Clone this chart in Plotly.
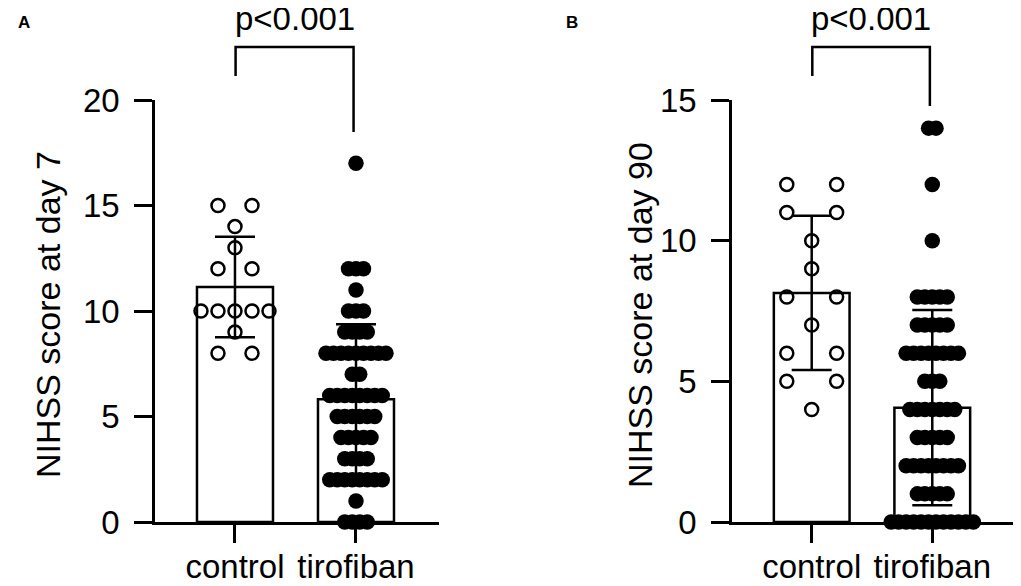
import plotly.graph_objects as go
import numpy as np

# data (NIHSS score levels and how many patients sit at each)
groups = ["control", "tirofiban"]

a_ctrl_scores = [15, 14, 13, 12, 10, 9, 8]
a_ctrl_counts = [2, 1, 1, 2, 5, 1, 2]
a_tiro_scores = [17, 12, 11, 10, 9, 8, 7, 6, 5, 4, 3, 2, 1, 0]
a_tiro_counts = [1, 3, 1, 3, 4, 9, 2, 8, 6, 5, 4, 8, 1, 4]

b_ctrl_scores = [12, 11, 10, 9, 8, 7, 6, 5, 4]
b_ctrl_counts = [2, 2, 1, 1, 2, 1, 2, 2, 1]
b_tiro_scores = [14, 12, 10, 8, 7, 6, 5, 4, 3, 2, 1, 0]
b_tiro_counts = [2, 1, 1, 5, 5, 8, 3, 7, 5, 8, 5, 12]

p_text = "p<0.001"

PAGE = 8                  # the browser's default body margin
W, H = 1021 - PAGE, 586 - PAGE
FONT = "Liberation Sans, Arial, sans-serif"
LW = 2.5
XR = [-0.661, 1.686]      # x range, category units
PX_PER_UNIT = 121.0


def px_x(px):
    return (px - PAGE) / W


def px_y(py):
    return 1 - (py - PAGE) / H


def expand(scores, counts):
    vals = []
    for s, c in zip(scores, counts):
        vals += [s] * c
    return np.array(vals, dtype=float)


def open_offsets(n, step):
    # spread open circles side by side, leave the middle empty for even counts
    if n % 2:
        return [(i - (n - 1) / 2) * step for i in range(n)]
    half = n // 2
    return [k * step for k in list(range(-half, 0)) + list(range(1, half + 1))]


def filled_offsets(n, step):
    return [(i - (n - 1) / 2) * step for i in range(n)]


def swarm(scores, counts, center, step, kind):
    xs, ys = [], []
    for s, c in zip(scores, counts):
        offs = open_offsets(c, step) if kind == "open" else filled_offsets(c, step)
        for o in offs:
            xs.append(center + o / PX_PER_UNIT)
            ys.append(s)
    return xs, ys


panels = [
    dict(xa="x", ya="y", ctrl=(a_ctrl_scores, a_ctrl_counts), tiro=(a_tiro_scores, a_tiro_counts),
         ctrl_step=17, ymax=20, xdom=(155, 439), title="NIHSS score at day 7",
         title_x=48, letter="A", letter_x=24, right_leg=132),
    dict(xa="x2", ya="y2", ctrl=(b_ctrl_scores, b_ctrl_counts), tiro=(b_tiro_scores, b_tiro_counts),
         ctrl_step=25, ymax=15, xdom=(732, 1015), title="NIHSS score at day 90",
         title_x=640, letter="B", letter_x=572, right_leg=106),
]

fig = go.Figure()
layout = dict(width=W, height=H, margin=dict(l=0, r=0, t=0, b=0, autoexpand=False),
              template="none",
              paper_bgcolor="white", plot_bgcolor="white", showlegend=False,
              font=dict(family=FONT, color="black"))
shapes, annotations = [], []

ydom = [px_y(522), px_y(100)]

for i, p in enumerate(panels):
    ctrl = expand(*p["ctrl"])
    tiro = expand(*p["tiro"])
    means = [ctrl.mean(), tiro.mean()]
    sds = [ctrl.std(ddof=1), tiro.std(ddof=1)]

    fig.add_trace(go.Bar(
        x=[0, 1], y=means, width=76 / PX_PER_UNIT,
        marker=dict(color="white", line=dict(color="black", width=LW)),
        error_y=dict(type="data", array=sds, color="black", thickness=LW, width=20),
        xaxis=p["xa"], yaxis=p["ya"]))

    cx, cy = swarm(*p["ctrl"], 0, p["ctrl_step"], "open")
    fig.add_trace(go.Scatter(
        x=cx, y=cy, mode="markers", cliponaxis=False,
        marker=dict(symbol="circle-open", size=13, color="black", line=dict(color="black", width=LW)),
        xaxis=p["xa"], yaxis=p["ya"]))

    tx, ty = swarm(*p["tiro"], 1, 7.5, "filled")
    fig.add_trace(go.Scatter(
        x=tx, y=ty, mode="markers", cliponaxis=False,
        marker=dict(symbol="circle", size=15.5, color="black", line=dict(width=0)),
        xaxis=p["xa"], yaxis=p["ya"]))

    sfx = "" if i == 0 else "2"
    xdom = [px_x(p["xdom"][0]), px_x(p["xdom"][1])]
    layout["xaxis" + sfx] = dict(
        domain=xdom, range=XR, anchor="y" + sfx, automargin=False,
        tickvals=[0, 1], ticktext=groups, ticks="outside", ticklen=18, tickwidth=LW,
        tickcolor="black", showline=True, linewidth=LW, linecolor="black",
        showgrid=False, zeroline=False, tickfont=dict(size=33, family=FONT),
        ticklabelstandoff=-4)
    layout["yaxis" + sfx] = dict(
        domain=ydom, range=[0, p["ymax"]], anchor="x" + sfx, automargin=False,
        tickvals=list(range(0, p["ymax"] + 1, 5)), ticks="outside", ticklen=18,
        tickwidth=LW, tickcolor="black", showline=True, linewidth=LW, linecolor="black",
        showgrid=False, zeroline=False, tickfont=dict(size=33, family=FONT),
        ticklabelstandoff=8)

    # significance bracket, positioned from the category centres
    def to_paper(xv):
        f = (xv - XR[0]) / (XR[1] - XR[0])
        return xdom[0] + f * (xdom[1] - xdom[0])

    xl, xr = to_paper(0.005), to_paper(0.98)
    top = px_y(47)
    shapes.append(dict(type="path", xref="paper", yref="paper",
                       path=f"M {xl} {px_y(76)} L {xl} {top} L {xr} {top} L {xr} {px_y(p['right_leg'])}",
                       line=dict(color="black", width=LW)))
    annotations.append(dict(x=(xl + xr) / 2, y=px_y(19), xref="paper", yref="paper",
                            text=p_text, showarrow=False, xanchor="center", yanchor="middle",
                            borderpad=0, font=dict(size=33, family=FONT)))
    annotations.append(dict(x=px_x(p["title_x"]), y=px_y(315), xref="paper", yref="paper",
                            text=p["title"], textangle=-90, showarrow=False,
                            xanchor="center", yanchor="middle", font=dict(size=34, family=FONT)))
    annotations.append(dict(x=px_x(p["letter_x"]), y=px_y(22), xref="paper", yref="paper",
                            text="<b>" + p["letter"] + "</b>", showarrow=False,
                            xanchor="center", yanchor="middle", font=dict(size=17, family=FONT)))

layout["shapes"] = shapes
layout["annotations"] = annotations
fig.update_layout(**layout)

fig.write_html("out.html")
